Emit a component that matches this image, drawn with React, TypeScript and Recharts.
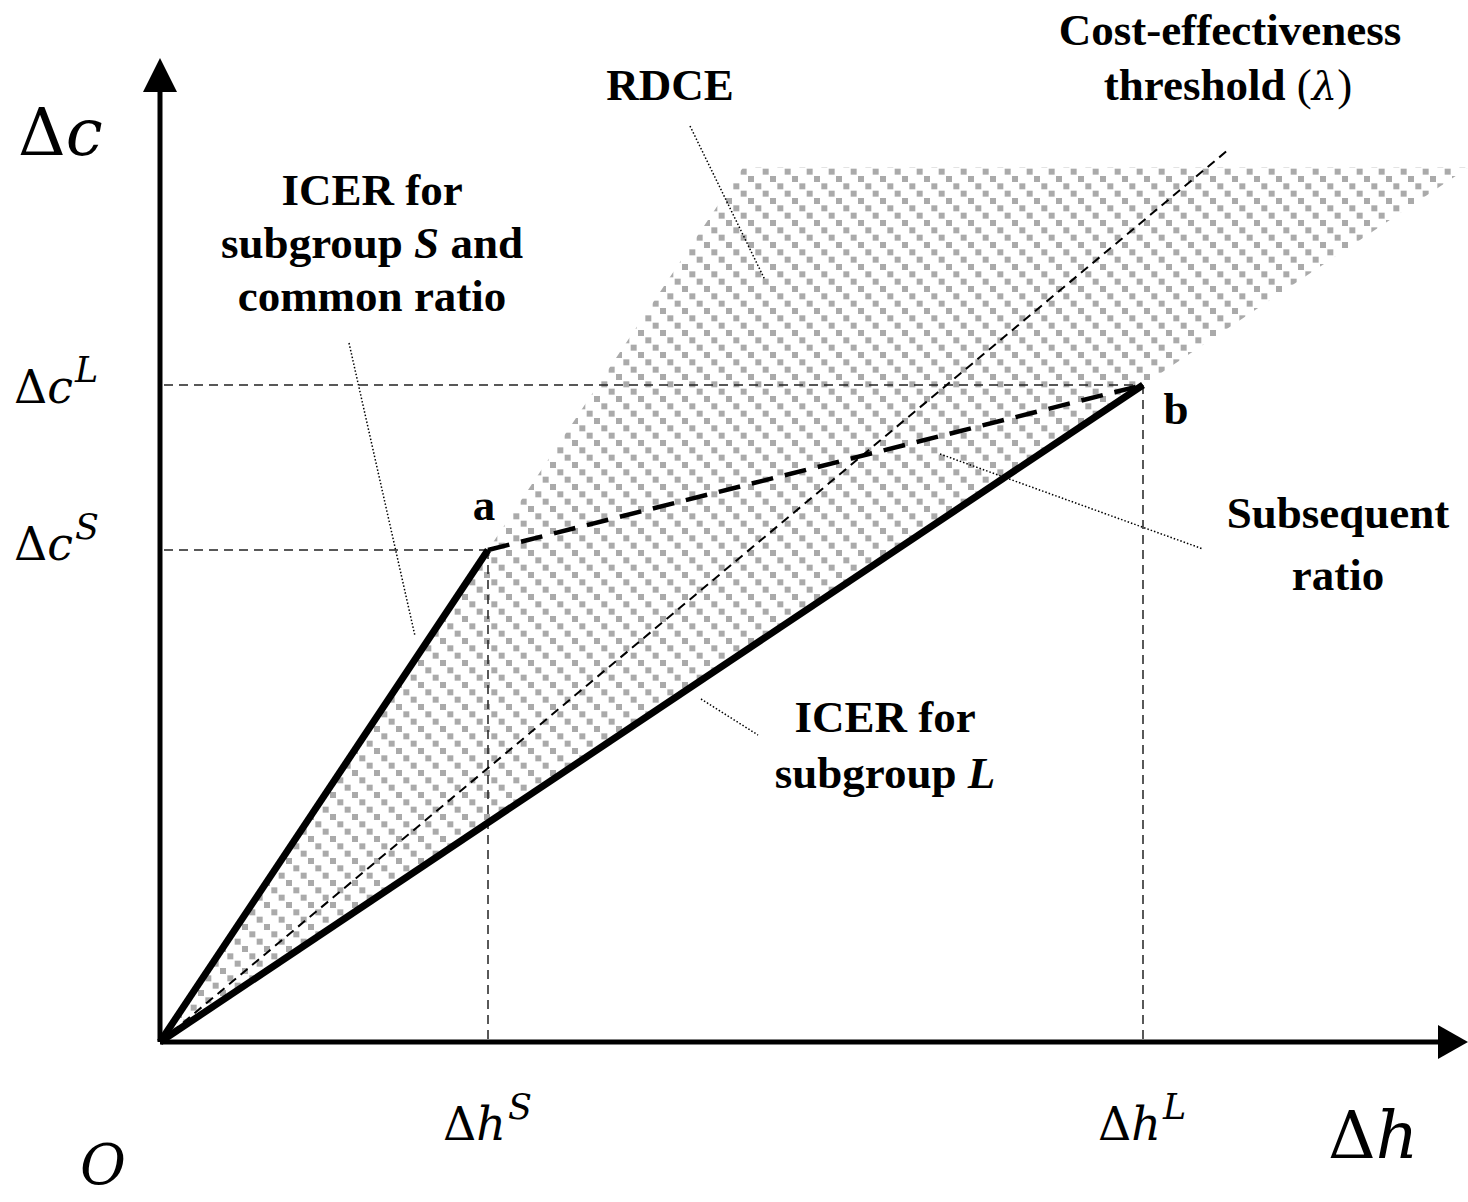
import { ComposedChart, Area, Line, Scatter, XAxis, YAxis } from 'recharts';

// conceptual cost-effectiveness plane; 1 unit = 100px on both axes
const pointO = { x: 0, y: 0 };
const pointA = { x: 3.28, y: 4.92 };
const pointB = { x: 9.83, y: 6.57 };
const thresholdEnd = { x: 10.68, y: 8.92 };
const hatchTop = 8.75;
const xMax = 13.08;
const yMax = 10.02;

const slopeS = pointA.y / pointA.x;
const slopeL = pointB.y / pointB.x;

// RDCE wedge between the two ICER rays
const rdce = [
  { x: 0, range: [0, 0] },
  { x: hatchTop / slopeS, range: [(hatchTop / slopeS) * slopeL, hatchTop] },
  { x: xMax, range: [xMax * slopeL, hatchTop] },
];

const icerS = [pointO, pointA];
const icerL = [pointO, pointB];
const subsequent = [pointA, pointB];
const threshold = [pointO, thresholdEnd];

const guides = [
  [{ x: 0.04, y: pointA.y }, pointA],
  [pointA, { x: pointA.x, y: 0 }],
  [{ x: 0.04, y: pointB.y }, pointB],
  [pointB, { x: pointB.x, y: 0 }],
];

const leaders = [
  [{ x: 5.3, y: 9.16 }, { x: 6.05, y: 7.62 }],
  [{ x: 1.89, y: 6.99 }, { x: 2.55, y: 4.06 }],
  [{ x: 7.8, y: 5.88 }, { x: 10.43, y: 4.93 }],
  [{ x: 5.41, y: 3.43 }, { x: 5.98, y: 3.07 }],
];

const xAxisLine = [pointO, { x: 12.85, y: 0 }];
const yAxisLine = [pointO, { x: 0, y: 9.6 }];
const arrowTips = [
  { x: xMax, y: 0, dir: 'right' },
  { x: 0, y: 9.84, dir: 'up' },
];

const W = 1468;
const H = 1202;
const serif = '"Liberation Serif", "Times New Roman", serif';
const math = '"DejaVu Serif", serif';

const Arrow = (props: any) => {
  const { cx, cy, payload } = props;
  const d =
    payload.dir === 'right'
      ? `M${cx},${cy} L${cx - 30},${cy - 17} L${cx - 30},${cy + 17} Z`
      : `M${cx},${cy} L${cx - 17},${cy + 34} L${cx + 17},${cy + 34} Z`;
  return <path d={d} fill="#000" />;
};

const Sym = ({ x, y, base, sup, size }: any) => (
  <text x={x} y={y} fontFamily={math} fontSize={size} fill="#000">
    <tspan>Δ</tspan>
    <tspan fontStyle="italic">{base}</tspan>
    {sup && (
      <tspan fontStyle="italic" fontSize={size * 0.76} dy={-size * 0.45} dx={2}>
        {sup}
      </tspan>
    )}
  </text>
);

const Bold = ({ x, y, children }: any) => (
  <text x={x} y={y} textAnchor="middle" fontFamily={serif} fontWeight="bold" fontSize={45} fill="#000">
    {children}
  </text>
);

export default function App() {
  return (
    <div style={{ position: 'absolute', left: 0, top: 0, background: '#fff' }}>
      <ComposedChart width={W} height={H} margin={{ top: 40, right: 0, bottom: 160, left: 160 }}>
        <defs>
          <pattern id="hatch" width="22" height="22" patternUnits="userSpaceOnUse">
            <rect x="0" y="0" width="6" height="6" fill="#aaaaaa" />
            <rect x="7.33" y="7.33" width="6" height="6" fill="#aaaaaa" />
            <rect x="14.67" y="14.67" width="6" height="6" fill="#aaaaaa" />
          </pattern>
        </defs>
        <XAxis type="number" dataKey="x" domain={[0, xMax]} hide />
        <YAxis type="number" domain={[0, yMax]} hide />
        <Area
          data={rdce}
          dataKey="range"
          type="linear"
          stroke="none"
          fill="url(#hatch)"
          fillOpacity={1}
          isAnimationActive={false}
          activeDot={false}
        />
        {guides.map((g, i) => (
          <Line
            key={'g' + i}
            data={g}
            dataKey="y"
            type="linear"
            stroke="#222"
            strokeWidth={1.5}
            strokeDasharray="9 6"
            dot={false}
            isAnimationActive={false}
          />
        ))}
        {leaders.map((g, i) => (
          <Line
            key={'l' + i}
            data={g}
            dataKey="y"
            type="linear"
            stroke="#000"
            strokeWidth={1.5}
            strokeDasharray="1.5 2"
            dot={false}
            isAnimationActive={false}
          />
        ))}
        <Line
          data={threshold}
          dataKey="y"
          type="linear"
          stroke="#000"
          strokeWidth={2}
          strokeDasharray="9 6"
          dot={false}
          isAnimationActive={false}
        />
        <Line
          data={subsequent}
          dataKey="y"
          type="linear"
          stroke="#000"
          strokeWidth={4.5}
          strokeDasharray="22 12"
          dot={false}
          isAnimationActive={false}
        />
        <Line data={icerS} dataKey="y" type="linear" stroke="#000" strokeWidth={7} dot={false} isAnimationActive={false} />
        <Line data={icerL} dataKey="y" type="linear" stroke="#000" strokeWidth={7} dot={false} isAnimationActive={false} />
        <Line data={xAxisLine} dataKey="y" type="linear" stroke="#000" strokeWidth={5} dot={false} isAnimationActive={false} />
        <Line data={yAxisLine} dataKey="y" type="linear" stroke="#000" strokeWidth={5} dot={false} isAnimationActive={false} />
        <Scatter data={arrowTips} dataKey="y" shape={Arrow} isAnimationActive={false} />

        <Sym x={18} y={155} base="c" size={66} />
        <Sym x={14} y={403} base="c" sup="L" size={46} />
        <Sym x={14} y={560} base="c" sup="S" size={46} />
        <Sym x={443} y={1140} base="h" sup="S" size={46} />
        <Sym x={1098} y={1140} base="h" sup="L" size={46} />
        <Sym x={1328} y={1158} base="h" size={66} />
        <text x={80} y={1184} fontFamily={math} fontStyle="italic" fontSize={56} fill="#000">
          O
        </text>

        <Bold x={670} y={100}>RDCE</Bold>
        <Bold x={1230} y={45}>Cost-effectiveness</Bold>
        <Bold x={1228} y={100}>
          threshold <tspan fontWeight="normal">(</tspan>
          <tspan fontWeight="normal" fontStyle="italic" fontFamily={math} fontSize={40}>λ</tspan>
          <tspan fontWeight="normal">)</tspan>
        </Bold>
        <Bold x={372} y={205}>ICER for</Bold>
        <Bold x={372} y={258}>
          subgroup <tspan fontStyle="italic">S</tspan> and
        </Bold>
        <Bold x={372} y={311}>common ratio</Bold>
        <Bold x={484} y={520}>a</Bold>
        <Bold x={1176} y={424}>b</Bold>
        <Bold x={1338} y={528}>Subsequent</Bold>
        <Bold x={1338} y={590}>ratio</Bold>
        <Bold x={885} y={732}>ICER for</Bold>
        <Bold x={885} y={788}>
          subgroup <tspan fontStyle="italic">L</tspan>
        </Bold>
      </ComposedChart>
    </div>
  );
}
